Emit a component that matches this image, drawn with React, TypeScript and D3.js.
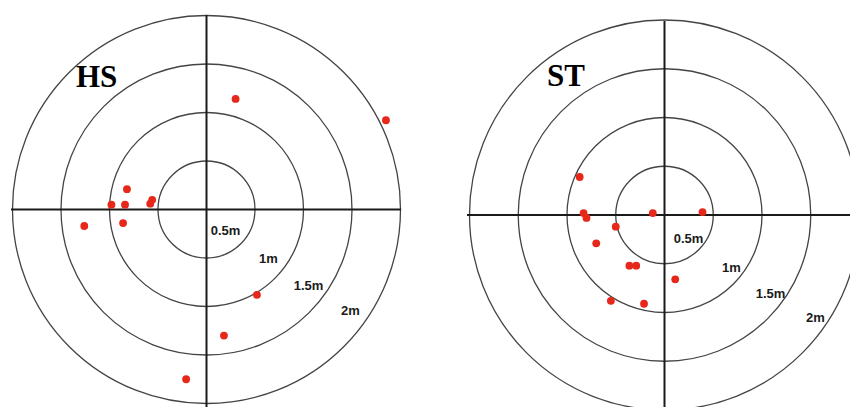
import React from "react";
import * as d3 from "d3";

// Distance rings (metres)
const rings = [0.5, 1, 1.5, 2];
const ringLabels = ["0.5m", "1m", "1.5m", "2m"];

// Landing positions relative to the target centre, metres (x right, y up)
const hsX = [0.3, 1.85, -0.82, -0.98, -0.84, -0.58, -0.56, -1.26, -0.86, 0.52, 0.18, -0.21];
const hsY = [1.14, 0.92, 0.21, 0.05, 0.05, 0.06, 0.1, -0.17, -0.14, -0.88, -1.3, -1.75];

const stX = [-0.87, -0.83, -0.8, -0.12, 0.39, -0.5, -0.7, -0.36, -0.29, 0.11, -0.55, -0.21];
const stY = [0.39, 0.02, -0.03, 0.02, 0.03, -0.12, -0.29, -0.52, -0.52, -0.66, -0.88, -0.91];

type PanelProps = {
  title: string;
  cx: number;
  cy: number;
  pxPerM: number;
  xs: number[];
  ys: number[];
  labelOffsets: [number, number][];
  titlePos: [number, number];
  hLine: [number, number];
  vTop: number;
};

function Panel({ title, cx, cy, pxPerM, xs, ys, labelOffsets, titlePos, hLine, vTop }: PanelProps) {
  const x = d3.scaleLinear().domain([-2, 2]).range([cx - 2 * pxPerM, cx + 2 * pxPerM]);
  const y = d3.scaleLinear().domain([-2, 2]).range([cy + 2 * pxPerM, cy - 2 * pxPerM]);
  const r = d3.scaleLinear().domain([0, 2]).range([0, 2 * pxPerM]);
  return (
    <g>
      {rings.map((d) => (
        <circle key={d} cx={x(0)} cy={y(0)} r={r(d)} fill="none" stroke="#444" strokeWidth={1.3} />
      ))}
      <line x1={hLine[0]} x2={hLine[1]} y1={y(0)} y2={y(0)} stroke="#1a1a1a" strokeWidth={2} />
      <line x1={x(0)} x2={x(0)} y1={vTop} y2={407} stroke="#1a1a1a" strokeWidth={2} />
      {ringLabels.map((t, i) => (
        <text
          key={t}
          x={x(0) + labelOffsets[i][0]}
          y={y(0) + labelOffsets[i][1]}
          textAnchor="middle"
          dominantBaseline="central"
          fontFamily="Liberation Sans, Arial, sans-serif"
          fontWeight="bold"
          fontSize={13}
          fill="#1a1a1a"
        >
          {t}
        </text>
      ))}
      <text
        x={titlePos[0]}
        y={titlePos[1]}
        fontFamily="Liberation Serif, Times New Roman, serif"
        fontWeight="bold"
        fontSize={31}
        fill="#000"
      >
        {title}
      </text>
      {xs.map((v, i) => (
        <circle key={i} cx={x(v)} cy={y(ys[i])} r={3.9} fill="#e8271b" />
      ))}
    </g>
  );
}

export default function App() {
  return (
    <svg width={850} height={407} style={{ position: "absolute", left: 0, top: 0, background: "#fff" }}>
      <Panel
        title="HS"
        cx={206.5}
        cy={209.5}
        pxPerM={97}
        xs={hsX}
        ys={hsY}
        labelOffsets={[[19, 21], [62, 49], [102, 76], [144, 101]]}
        titlePos={[76, 87]}
        hLine={[11, 401]}
        vTop={15}
      />
      <Panel
        title="ST"
        cx={664.5}
        cy={215}
        pxPerM={97.5}
        xs={stX}
        ys={stY}
        labelOffsets={[[24, 23], [67, 52], [106, 78], [151, 102]]}
        titlePos={[547, 86]}
        hLine={[467, 850]}
        vTop={21}
      />
    </svg>
  );
}
